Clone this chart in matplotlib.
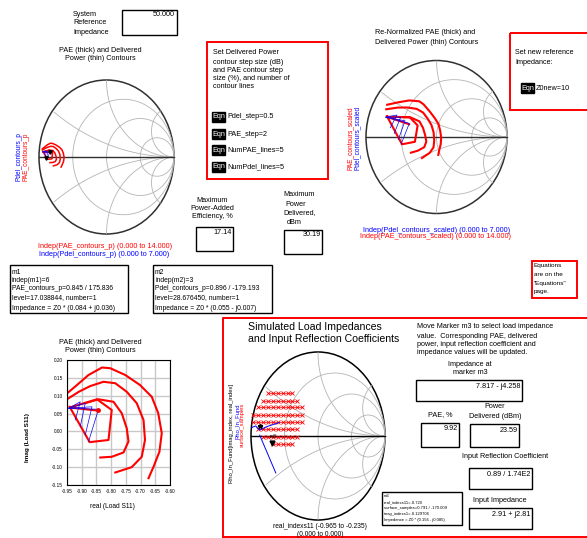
import numpy as np
import matplotlib
matplotlib.use("Agg")
from matplotlib import pyplot as plt
from matplotlib.patches import Rectangle, Ellipse

plt.rcParams["font.family"] = ["Liberation Sans", "DejaVu Sans"]

W, H = 587, 538

# PAE contours (thick), load reflection coefficient, Z0 = 50
pae1_re = [-0.843, -0.941, -0.848, -0.798, -0.809, -0.873, -0.941]
pae1_im = [0.058, 0.067, 0.090, 0.060, -0.024, -0.030, 0.069]
pae2_re = [-0.888, -0.843, -0.792, -0.764, -0.747, -0.741, -0.758, -0.798, -0.837]
pae2_im = [0.079, 0.090, 0.083, 0.051, 0.009, -0.028, -0.059, -0.071, -0.073]
pae3_re = [-0.950, -0.910, -0.871, -0.826, -0.786, -0.747, -0.713, -0.690, -0.685, -0.696, -0.730, -0.786]
pae3_im = [0.090, 0.111, 0.127, 0.139, 0.135, 0.111, 0.079, 0.032, -0.024, -0.071, -0.100, -0.115]
pae4_re = [-0.952, -0.916, -0.877, -0.831, -0.803, -0.752, -0.702, -0.662, -0.640, -0.628, -0.636, -0.656, -0.673]
pae4_im = [0.105, 0.130, 0.158, 0.179, 0.177, 0.158, 0.130, 0.097, 0.051, -0.005, -0.057, -0.099, -0.131]

# delivered power contours (thin)
pdel1_re = [-0.944, -0.905, -0.922]
pdel1_im = [0.065, 0.083, 0.032]
pdel2_re = [-0.944, -0.888, -0.905]
pdel2_im = [0.065, 0.079, 0.013]
pdel3_re = [-0.944, -0.865, -0.888]
pdel3_im = [0.065, 0.069, -0.010]
pdel4_re = [-0.944, -0.843, -0.877]
pdel4_im = [0.065, 0.062, -0.029]

m1 = (-0.843, 0.061)
m2 = (-0.896, -0.013)

# simulated load samples (surface_samples)
sample_cols = [-0.965, -0.892, -0.819, -0.746, -0.673, -0.600, -0.527, -0.454, -0.381, -0.308, -0.235]
sample_rows = [0.51, 0.42, 0.34, 0.25, 0.165, 0.08, -0.01, -0.10]
row_first = [3, 2, 1, 0, 0, 1, 2, 4]
row_last = [8, 9, 10, 10, 10, 9, 9, 8]

# input reflection coefficient (Rho_In_Fund)
rho_a_re = [-0.99, -0.93, -0.87, -0.77, -0.58]
rho_a_im = [0.10, 0.12, 0.07, 0.11, 0.16]
rho_b_re = [-0.87, -0.63]
rho_b_im = [0.01, -0.44]
rho_m = (-0.86, 0.12)
m3 = (-0.69, -0.083)

smith_r = [1 / 3, 1, 3]
smith_x = [1 / 3, 1, 3]

Z0, Z0NEW = 50, 10

pae_sets = [(pae1_re, pae1_im), (pae2_re, pae2_im), (pae3_re, pae3_im), (pae4_re, pae4_im)]
pdel_sets = [(pdel1_re, pdel1_im), (pdel2_re, pdel2_im), (pdel3_re, pdel3_im), (pdel4_re, pdel4_im)]

fig = plt.figure(figsize=(W / 100, H / 100), dpi=100)
page = fig.add_axes([0, 0, 1, 1])
page.set_xlim(0, W)
page.set_ylim(H, 0)
page.axis("off")

FS = 5.2


def txt(x, y, s, ha="left", color="black", size=FS, **kw):
    page.text(x, y, s, ha=ha, va="center", color=color, fontsize=size, **kw)


def box(x0, y0, x1, y1, color="black", lw=1.0):
    page.add_patch(Rectangle((x0, y0), x1 - x0, y1 - y0, fill=False, ec=color, lw=lw))


def eqn(x, y, s):
    page.add_patch(Rectangle((x, y - 5), 13, 10, color="black"))
    txt(x + 6.5, y, "Eqn", ha="center", color="white", size=FS)
    txt(x + 15, y, s)


def smith(cx, cy, rx, ry, dark="#303030"):
    def to_px(g):
        return cx + rx * g.real, cy - ry * g.imag
    t = np.linspace(0, 2 * np.pi, 400)
    for r in smith_r:
        g = r / (r + 1) + np.exp(1j * t) / (r + 1)
        page.plot(*to_px(g), color="#b4b4b4", lw=0.6)
    for x in smith_x:
        for s in (1, -1):
            g = 1 + 1j * s / x + np.exp(1j * t) / x
            g = np.where(np.abs(g) <= 1.001, g, np.nan)
            page.plot(*to_px(g), color="#b4b4b4", lw=0.6)
    page.add_patch(Ellipse((cx, cy), 2 * rx, 2 * ry, fill=False, ec=dark, lw=1.1))
    page.plot([cx - rx, cx + rx], [cy, cy], color=dark, lw=1.0)
    return to_px


def renorm(g):
    z = (1 + g) / (1 - g) * Z0
    return (z - Z0NEW) / (z + Z0NEW)


# ---- top left smith chart
txt(73, 14, "System")
txt(73, 23, "Reference")
txt(73, 32, "Impedance")
box(122, 10, 177, 35)
txt(175, 15, "50.000", ha="right")
txt(100, 50, "PAE (thick) and Delivered", ha="center")
txt(100, 59, "Power (thin) Contours", ha="center")

to_px = smith(106.5, 157, 67.5, 77)
for re, im in pae_sets:
    page.plot(*to_px(np.array(re) + 1j * np.array(im)), color="red", lw=1.1)
for re, im in pdel_sets:
    page.plot(*to_px(np.array(re) + 1j * np.array(im)), color="blue", lw=0.4)
for m in (m1, m2):
    page.plot(*to_px(np.array([m[0] + 1j * m[1]])), marker="v", color="black", ms=2.5, ls="none")
txt(105, 247, "Indep(PAE_contours_p) (0.000 to 14.000)", ha="center", color="red")
txt(104, 254, "Indep(Pdel_contours_p) (0.000 to 7.000)", ha="center", color="blue")
txt(19, 157, "Pdel_contours_p", ha="center", color="blue", rotation=90, size=4.7)
txt(25.5, 157, "PAE_contours_p", ha="center", color="red", rotation=90, size=4.7)

# ---- settings box
box(207, 42, 328, 179, color="red", lw=1.4)
for y, s in zip([53, 62, 70, 78, 87], ["Set Delivered Power", "contour step size (dB)",
                                         "and PAE contour step", "size (%), and number of",
                                         "contour lines"]):
    txt(213, y, s)
eqn(212, 117, "Pdel_step=0.5")
eqn(212, 134, "PAE_step=2")
eqn(212, 150, "NumPAE_lines=5")
eqn(212, 167, "NumPdel_lines=5")

txt(212, 200, "Maximum", ha="center")
txt(212, 208, "Power-Added", ha="center")
txt(212, 217, "Efficiency, %", ha="center")
box(196, 227, 233, 251)
txt(232, 232, "17.14", ha="right")
txt(283, 195, "Maximum")
txt(285, 204, "Power")
txt(283, 213, "Delivered,")
txt(287, 222, "dBm")
box(284, 230, 322, 254)
txt(321, 235, "30.19", ha="right")

# ---- top right smith chart (renormalized)
txt(375, 33, "Re-Normalized PAE (thick) and")
txt(375, 42, "Delivered Power (thin) Contours")
to_px = smith(436.5, 137, 70.5, 76.5)
for re, im in pae_sets:
    page.plot(*to_px(renorm(np.array(re) + 1j * np.array(im))), color="red", lw=1.5)
for re, im in pdel_sets:
    page.plot(*to_px(renorm(np.array(re) + 1j * np.array(im))), color="blue", lw=0.5)
txt(437, 230, "Indep(Pdel_contours_scaled) (0.000 to 7.000)", ha="center", color="blue")
txt(436, 237, "Indep(PAE_contours_scaled) (0.000 to 14.000)", ha="center", color="red")
txt(350.5, 138, "PAE_contours_scaled", ha="center", color="red", rotation=90, size=4.7)
txt(357.5, 138, "Pdel_contours_scaled", ha="center", color="blue", rotation=90, size=4.7)

box(510, 33, 595, 110, color="red", lw=1.4)
txt(515, 53, "Set new reference")
txt(515, 62, "Impedance:")
eqn(521, 88, "Z0new=10")

box(532, 261, 577, 298, color="red", lw=1.4)
for y, s in zip([266, 275, 283, 292], ["Equations", "are on the", "\"Equations\"", "page."]):
    txt(534, y, s, size=4.6)

# ---- marker readouts
box(10, 265, 128, 313)
for y, s in zip([272, 281, 289, 298, 308], ["m1", "indep(m1)=6", "PAE_contours_p=0.845 / 175.836",
                                             "level=17.038844, number=1",
                                             "Impedance = Z0 * (0.084 + j0.036)"]):
    txt(12, y, s, size=4.9)
box(153, 265, 272, 313)
for y, s in zip([272, 281, 289, 298, 308], ["m2", "indep(m2)=3", "Pdel_contours_p=0.896 / -179.193",
                                             "level=28.676450, number=1",
                                             "Impedance = Z0 * (0.055 - j0.007)"]):
    txt(155, y, s, size=4.9)

# ---- rectangular contour plot
txt(100, 342, "PAE (thick) and Delivered", ha="center")
txt(100, 350, "Power (thin) Contours", ha="center")
ax = fig.add_axes([67 / W, 1 - 485 / H, 103 / W, 125 / H])
for re, im in pae_sets:
    ax.plot(re, im, color="red", lw=1.5)
for re, im in pdel_sets:
    ax.plot(re, im, color="blue", lw=0.5)
ax.plot([m1[0]], [m1[1]], marker="o", color="red", ms=2.5)
ax.set_xlim(-0.95, -0.60)
ax.set_ylim(-0.15, 0.20)
ax.set_xticks([-0.95, -0.90, -0.85, -0.80, -0.75, -0.70, -0.65, -0.60])
ax.set_yticks([-0.15, -0.10, -0.05, 0.00, 0.05, 0.10, 0.15, 0.20])
ax.set_xticklabels(["-0.95", "-0.90", "-0.85", "-0.80", "-0.75", "-0.70", "-0.65", "-0.60"])
ax.set_yticklabels(["-0.15", "-0.10", "-0.05", "0.00", "0.05", "0.10", "0.15", "0.20"])
ax.tick_params(length=0, labelsize=3.4, pad=3)
ax.grid(True, color="#c8c8c8", lw=1.0)
ax.set_axisbelow(True)
for sp in ax.spines.values():
    sp.set_linewidth(0.8)
txt(27, 437, "Imag (Load S11)", ha="center", rotation=90, size=4.6, fontweight="bold")
txt(112, 507, "real (Load S11)", ha="center", size=4.8)

# ---- load impedance panel
page.plot([223, 223, 595], [540, 318, 318], color="red", lw=1.4)
page.plot([223, 595], [537, 537], color="red", lw=1.4)
txt(248, 327, "Simulated Load Impedances", size=7.6)
txt(248, 339, "and Input Reflection Coefficients", size=7.6)

to_px = smith(318, 436, 67, 84, dark="black")
for im, a, b in zip(sample_rows, row_first, row_last):
    g = np.array(sample_cols[a:b + 1]) + 1j * im
    page.plot(*to_px(g), color="red", lw=0.5, marker="x", ms=2.2, mew=0.6)
page.plot(*to_px(np.array(rho_a_re) + 1j * np.array(rho_a_im)), color="blue", lw=0.7)
page.plot(*to_px(np.array(rho_b_re) + 1j * np.array(rho_b_im)), color="blue", lw=0.7)
page.plot(*to_px(np.array([rho_m[0] + 1j * rho_m[1]])), marker="*", color="black", ms=3.5)
px, py = to_px(np.array([m3[0] + 1j * m3[1]]))
page.plot(px, py, marker="v", color="black", ms=3.5)
txt(px[0] - 2, py[0] - 6, "m3", size=3.6)
txt(232, 433, "Rho_In_Fund[imag_index, real_index]", ha="center", rotation=90, size=4.2)
txt(237, 421, "Rho_In_Fund", ha="center", color="blue", rotation=90, size=4.2)
txt(242, 425, "surface_samples", ha="center", color="red", rotation=90, size=4.2)
txt(320, 527, "real_indexs11 (-0.965 to -0.235)", ha="center", size=4.8)
txt(320, 534, "(0.000 to 0.000)", ha="center", size=4.8)

box(382, 492, 462, 525)
for y, s in zip([496, 502, 508, 514, 520], ["m3", "real_indexs11=-0.720", "surface_samples=0.791 / -170.009",
                                             "imag_indexs1=-0.129706", "Impedance = Z0 * (0.156 - j0.085)"]):
    txt(384, y, s, size=3.0)

for y, s in zip([327, 336, 344, 353], ["Move Marker m3 to select load impedance",
                                       "value.  Corresponding PAE, delivered",
                                       "power, input reflection coefficient and",
                                       "impedance values will be updated."]):
    txt(417, y, s)
txt(470, 365, "Impedance at", ha="center")
txt(470, 373, "marker m3", ha="center")
box(416, 380, 522, 401)
txt(520, 386, "7.817 - j4.258", ha="right")
txt(440, 415, "PAE, %", ha="center")
txt(495, 407, "Power", ha="center")
txt(495, 416, "Delivered (dBm)", ha="center")
box(421, 423, 459, 447)
txt(458, 429, "9.92", ha="right")
box(470, 424, 519, 447)
txt(518, 430, "23.59", ha="right")
txt(505, 457, "Input Reflection Coefficient", ha="center")
box(469, 468, 532, 489)
txt(530, 474, "0.89 / 1.74E2", ha="right")
txt(500, 500, "Input Impedance", ha="center")
box(469, 508, 532, 529)
txt(530, 514, "2.91 + j2.81", ha="right")

fig.savefig("out.png", dpi=100)
